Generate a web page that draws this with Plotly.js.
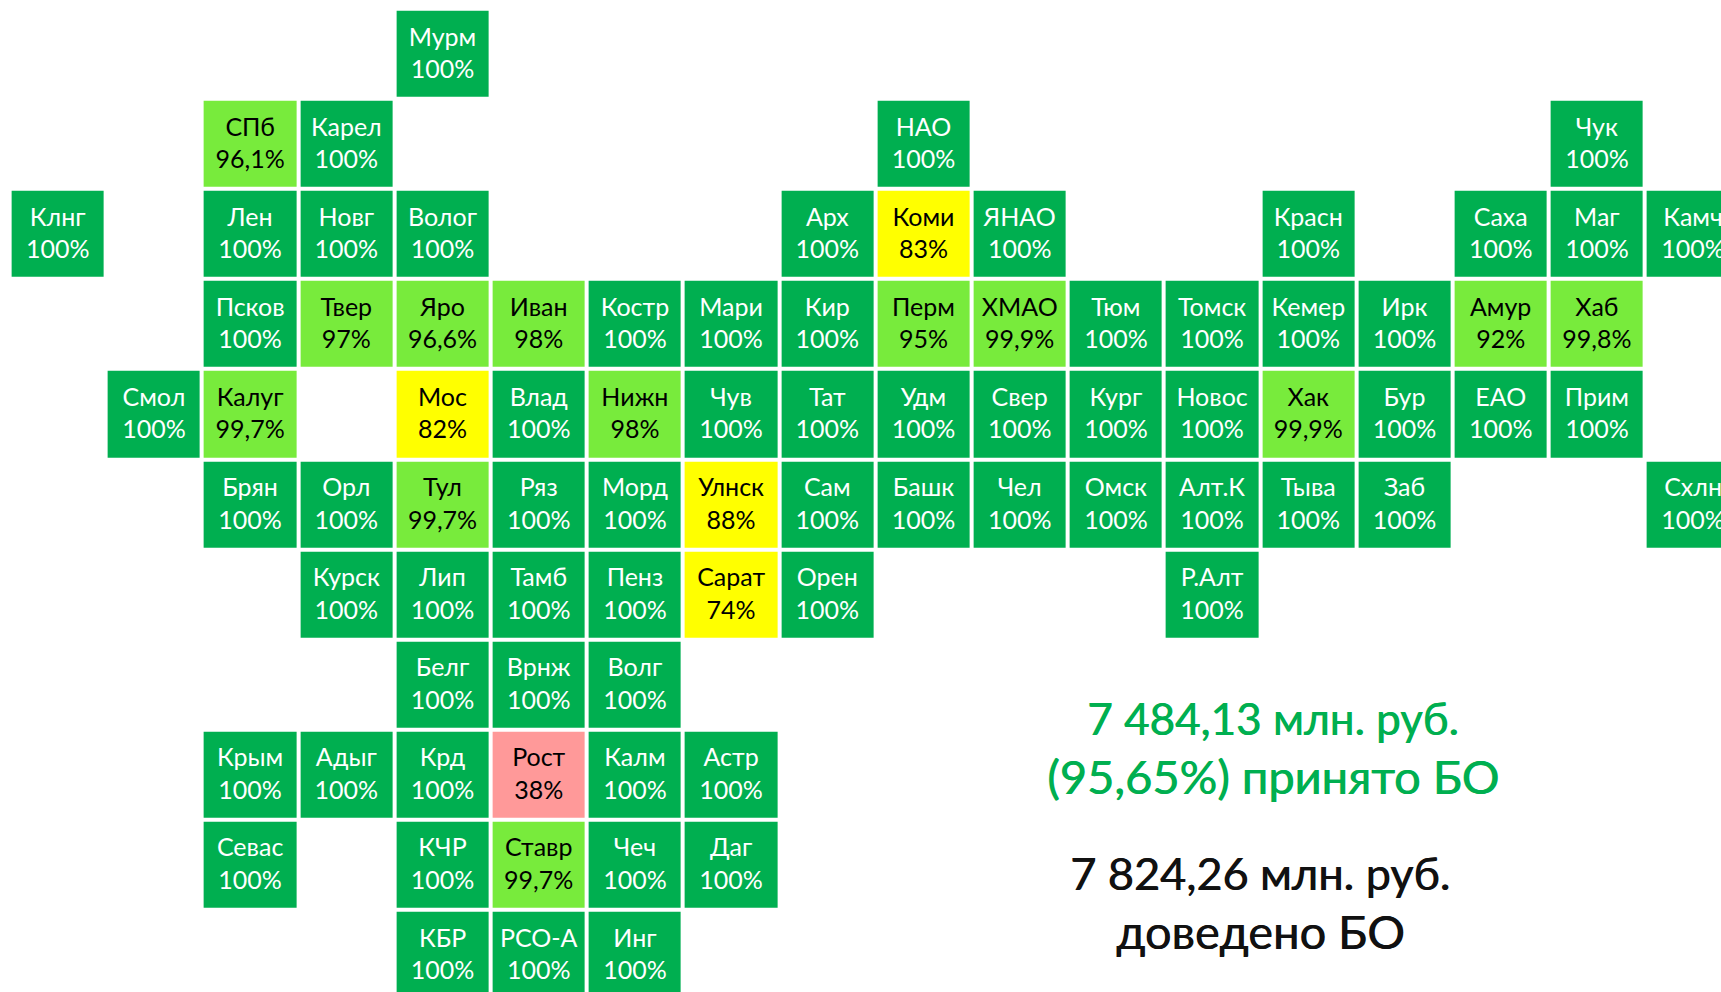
<!DOCTYPE html>
<html><head><meta charset="utf-8">
<script src="https://cdn.plot.ly/plotly-3.0.1.min.js"></script>
<style>html,body{margin:0;padding:0;background:#fff;overflow:hidden}#c{width:1721px;height:992px}</style>
</head><body><div id="c"></div>
<script>
const regions = ["Мурм",
"СПб","Карел","НАО","Чук",
"Клнг","Лен","Новг","Волог","Арх","Коми","ЯНАО","Красн","Саха","Маг","Камч",
"Псков","Твер","Яро","Иван","Костр","Мари","Кир","Перм","ХМАО","Тюм","Томск","Кемер","Ирк","Амур","Хаб",
"Смол","Калуг","Мос","Влад","Нижн","Чув","Тат","Удм","Свер","Кург","Новос","Хак","Бур","ЕАО","Прим",
"Брян","Орл","Тул","Ряз","Морд","Улнск","Сам","Башк","Чел","Омск","Алт.К","Тыва","Заб","Схлн",
"Курск","Лип","Тамб","Пенз","Сарат","Орен","Р.Алт",
"Белг","Врнж","Волг",
"Крым","Адыг","Крд","Рост","Калм","Астр",
"Севас","КЧР","Ставр","Чеч","Даг",
"КБР","РСО-А","Инг"];
const columns = [4,
2,3,9,16,
0,2,3,4,8,9,10,13,15,16,17,
2,3,4,5,6,7,8,9,10,11,12,13,14,15,16,
1,2,4,5,6,7,8,9,10,11,12,13,14,15,16,
2,3,4,5,6,7,8,9,10,11,12,13,14,17,
3,4,5,6,7,8,12,
4,5,6,
2,3,4,5,6,7,
2,4,5,6,7,
4,5,6];
const rows = [0,
1,1,1,1,
2,2,2,2,2,2,2,2,2,2,2,
3,3,3,3,3,3,3,3,3,3,3,3,3,3,3,
4,4,4,4,4,4,4,4,4,4,4,4,4,4,4,
5,5,5,5,5,5,5,5,5,5,5,5,5,5,
6,6,6,6,6,6,6,
7,7,7,
8,8,8,8,8,8,
9,9,9,9,9,
10,10,10];
const percents = [100,
96.1,100,100,100,
100,100,100,100,100,83,100,100,100,100,100,
100,97,96.6,98,100,100,100,95,99.9,100,100,100,100,92,99.8,
100,99.7,82,100,98,100,100,100,100,100,100,99.9,100,100,100,
100,100,99.7,100,100,88,100,100,100,100,100,100,100,100,
100,100,100,100,74,100,100,
100,100,100,
100,100,100,38,100,100,
100,100,99.7,100,100,
100,100,100];
const summaryLines = ["7 484,13 млн. руб.","(95,65%) принято БО","7 824,26 млн. руб.","доведено БО"];

const GREEN="#00AF50", LIGHT="#78EB3C", YELLOW="#FFFF00", PINK="#FF9999", INK="#111111";
const FONT="Lato, 'Open Sans', sans-serif";
const labels = regions.map((n,i)=>n+"<br>"+String(percents[i]).replace(".",",")+"%");
const textColors = percents.map(v=>v>=100?"#FFFFFF":"#000000");

const traces=[{
  type:"heatmap",x:columns,y:rows,z:percents,zmin:0,zmax:100,xgap:4,ygap:4,showscale:false,hoverongaps:false,
  colorscale:[[0,PINK],[0.5,PINK],[0.5,YELLOW],[0.9,YELLOW],[0.9,LIGHT],[0.9995,LIGHT],[0.9995,GREEN],[1,GREEN]]
},{
  type:"scatter",mode:"text",x:columns,y:rows.map(r=>r+0.02),text:labels,textposition:"middle center",
  textfont:{family:FONT,size:25,color:textColors},hoverinfo:"skip",cliponaxis:false
}];
function line(i,x,y,size,color){
  const s=`0.7px 0 0 ${color}`;
  return {xref:"paper",yref:"paper",x:x/1721,y:1-y/992,yanchor:"middle",xanchor:"center",showarrow:false,
    text:summaryLines[i],font:{family:FONT,size:size,color:color,shadow:s}};
}
const layout={
  width:1721,height:992,margin:{l:0,r:0,t:0,b:0},paper_bgcolor:"#fff",plot_bgcolor:"#fff",showlegend:false,
  xaxis:{range:[-0.6,17.29],visible:false,fixedrange:true},
  yaxis:{range:[10.413,-0.597],visible:false,fixedrange:true},
  annotations:[
   line(0,1273,718,44,GREEN),
   line(1,1273,776,47,GREEN),
   line(2,1260,873,45,INK),
   line(3,1260,931,47,INK)
  ]
};
Plotly.newPlot("c",traces,layout,{staticPlot:true,displayModeBar:false});
</script></body></html>
